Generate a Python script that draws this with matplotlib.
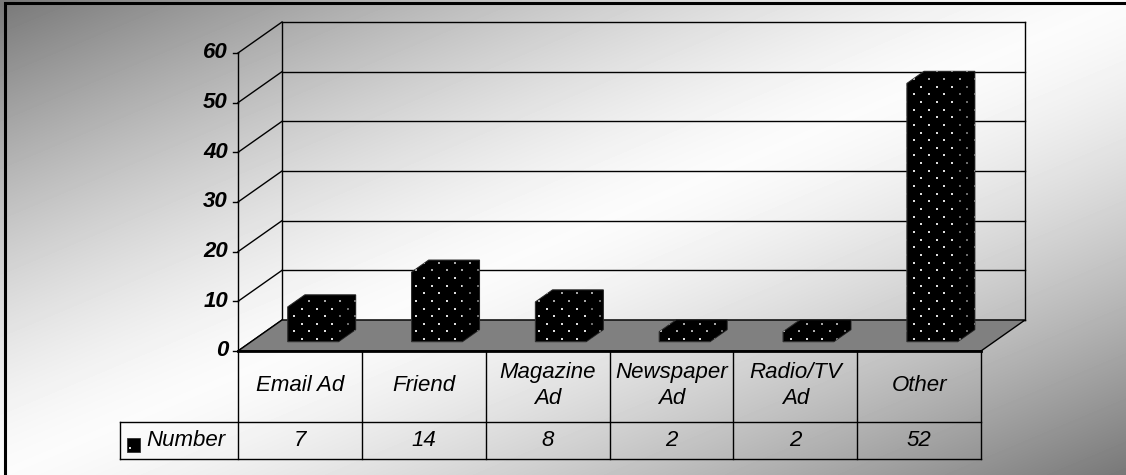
import numpy as np
import matplotlib
matplotlib.use("Agg")
import matplotlib.pyplot as plt
from matplotlib.patches import Polygon, Rectangle

# ---- data -------------------------------------------------------------
categories = ["Email Ad", "Friend", "Magazine\nAd", "Newspaper\nAd", "Radio/TV\nAd", "Other"]
values = [7, 14, 8, 2, 2, 52]
series_name = "Number"
y_ticks = [0, 10, 20, 30, 40, 50, 60]

# ---- layout (pixels, origin top-left) ---------------------------------
W, H, DPI = 1126, 475, 100
PLOT_L, PLOT_R = 238, 981      # front edge of the floor
ZERO_Y, TOP_Y = 351, 53        # front axis positions of 0 and of the max
DEPTH_X, DEPTH_Y = 44, 31      # oblique depth offset of the back wall
HEADER_BOTTOM, TABLE_BOTTOM = 422, 459
LEGEND_LEFT = 120
FONT = "Liberation Sans"

n = len(categories)
ymax = y_ticks[-1]
ux = (PLOT_R - PLOT_L) / n
uy = (ZERO_Y - TOP_Y) / ymax


def dx_(p):
    return (p - PLOT_L) / ux


def dy_(p):
    return (ZERO_Y - p) / uy


DX = DEPTH_X / ux
DY = DEPTH_Y / uy

fig = plt.figure(figsize=(W / DPI, H / DPI), dpi=DPI)

# ---- background gradient (dark corners, light diagonal band) ----------
bg = fig.add_axes([0, 0, 1, 1])
bg.set_axis_off()
gx, gy = np.meshgrid(np.linspace(0, 1, W), np.linspace(0, 1, H))
t = (gx + gy) / 2
light = 1 - (np.abs(2 * t - 1)) ** 1.4
shade = 0.47 + (0.985 - 0.47) * light
bg.imshow(shade, cmap="gray", vmin=0, vmax=1, aspect="auto", interpolation="bilinear")

ax = fig.add_axes([0, 0, 1, 1])
ax.set_axis_off()
ax.patch.set_alpha(0)

LW = 1.0
# ---- walls -------------------------------------------------------------
for v in y_ticks:
    ax.plot([DX, n + DX], [v + DY, v + DY], color="k", lw=LW, zorder=2)
    ax.plot([0, DX], [v, v + DY], color="k", lw=LW, zorder=2)
    ax.plot([-5 / ux, 0], [v, v], color="k", lw=LW, zorder=2)
    ax.text(dx_(PLOT_L - 10), v, f"{v}", ha="right", va="center",
            fontsize=16, fontweight="bold", style="italic", family=FONT, zorder=5)
ax.plot([0, 0], [0, ymax], color="k", lw=LW, zorder=2)
ax.plot([DX, DX], [DY, ymax + DY], color="k", lw=LW, zorder=2)
ax.plot([n + DX, n + DX], [DY, ymax + DY], color="k", lw=LW, zorder=2)

# ---- floor -------------------------------------------------------------
floor = Polygon([(0, 0), (n, 0), (n + DX, DY), (DX, DY)], closed=True,
                fc="#808080", ec="k", lw=LW, zorder=3)
ax.add_patch(floor)

# ---- bars with dotted pattern -----------------------------------------
bw = 0.41
d0, d1 = 0.30, 0.69
sp = 7.65
lat_i = np.arange(-140, 40)
lat_j = np.arange(-20, 70)
LI, LJ = np.meshgrid(lat_i, lat_j)
mask = (LI + LJ) % 2 == 0
lat_x = dx_(929 + LI[mask] * sp)
lat_y = dy_(79 + LJ[mask] * sp)

for i, v in enumerate(values):
    x0 = i + 0.5 - bw / 2
    x1 = i + 0.5 + bw / 2
    fx0, fx1, fy = x0 + d0 * DX, x1 + d0 * DX, d0 * DY
    bx0, bx1, by = x0 + d1 * DX, x1 + d1 * DX, d1 * DY
    outline = Polygon([(fx0, fy), (fx1, fy), (bx1, by), (bx1, v + by),
                       (bx0, v + by), (fx0, v + fy)], closed=True,
                      fc="black", ec="#303030", lw=0.8, zorder=6)
    ax.add_patch(outline)
    sel = (lat_x > fx0 - 0.2) & (lat_x < bx1 + 0.2) & (lat_y > fy - 2) & (lat_y < v + by + 2)
    sc = ax.scatter(lat_x[sel], lat_y[sel], s=1.7, marker="s", c="#dcdcdc",
                    linewidths=0, zorder=7)
    sc.set_clip_path(outline)
    side = Polygon([(fx1, fy), (bx1, by), (bx1, v + by), (fx1, v + fy)], closed=True,
                   fc=(0, 0, 0, 0.5), ec="none", zorder=8)
    ax.add_patch(side)
    top = Polygon([(fx0, v + fy), (fx1, v + fy), (bx1, v + by), (bx0, v + by)],
                  closed=True, fc=(0, 0, 0, 0.25), ec="none", zorder=8)
    ax.add_patch(top)

# ---- data table ---------------------------------------------------------
ax.plot([0, n], [0, 0], color="k", lw=2.0, zorder=9)
yh, yb = dy_(HEADER_BOTTOM), dy_(TABLE_BOTTOM)
xl = dx_(LEGEND_LEFT)
for k in range(n + 1):
    ax.plot([k, k], [0, yb], color="k", lw=LW, zorder=9)
ax.plot([xl, n], [yh, yh], color="k", lw=LW, zorder=9)
ax.plot([xl, n], [yb, yb], color="k", lw=LW, zorder=9)
ax.plot([xl, xl], [yh, yb], color="k", lw=LW, zorder=9)

for i, (c, v) in enumerate(zip(categories, values)):
    ax.text(i + 0.5, dy_(385.5), c, ha="center", va="center", fontsize=16,
            style="italic", family=FONT, linespacing=1.35, zorder=10)
    ax.text(i + 0.5, dy_(441), f"{v}", ha="center", va="center", fontsize=16,
            style="italic", family=FONT, zorder=10)

# legend key
kx0, kx1 = dx_(127), dx_(140)
ky0, ky1 = dy_(451.5), dy_(437.5)
ax.add_patch(Rectangle((kx0, ky0), kx1 - kx0, ky1 - ky0, fc="black", ec="#303030",
                       lw=0.6, zorder=10))
ax.scatter([dx_(130)], [dy_(447.5)], s=1.7, marker="s", c="#dcdcdc", linewidths=0, zorder=11)
ax.text(dx_(146), dy_(441), series_name, ha="left", va="center", fontsize=16,
        style="italic", family=FONT, zorder=10)

# ---- outer frame --------------------------------------------------------
ax.plot([dx_(4.5), dx_(4.5), dx_(W + 10)], [dy_(H + 10), dy_(3.5), dy_(3.5)],
        color="k", lw=2.2, zorder=12, solid_joinstyle="miter")

ax.set_xlim(dx_(0), dx_(W))
ax.set_ylim(dy_(H), dy_(0))

fig.savefig("out.png", dpi=DPI)
